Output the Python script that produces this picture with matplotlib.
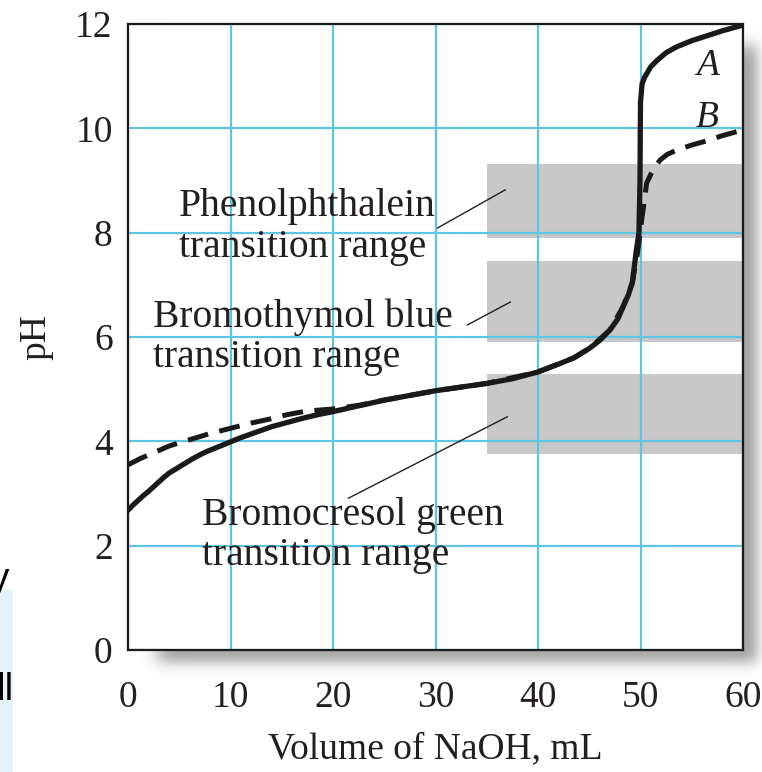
import numpy as np
import matplotlib
matplotlib.use('Agg')
import matplotlib.pyplot as plt
from matplotlib.patches import Rectangle

# titration curves: volume of NaOH (mL) vs pH
vol_a = [0, 0.5, 1, 1.5, 2, 2.5, 3, 3.5, 4, 4.75, 5.5, 6.25, 7, 7.75, 8.5, 9.25, 10, 11,
         12, 13, 14, 15.5, 17, 18.5, 20, 22.5, 25, 27.5, 30, 32.5, 35, 37.5, 40, 42,
         43.5, 45, 46, 47, 47.8, 48.3, 48.8, 49.2, 49.6, 49.85, 49.95, 49.98, 50.0,
         50.15, 50.4, 51.0, 51.6, 52.5, 53.5, 55, 56.1, 58, 60]
ph_a = [2.68, 2.78, 2.87, 2.96, 3.04, 3.13, 3.22, 3.31, 3.39, 3.48, 3.57, 3.66, 3.74,
        3.81, 3.87, 3.93, 3.99, 4.07, 4.14, 4.21, 4.28, 4.36, 4.44, 4.51, 4.57, 4.68,
        4.79, 4.88, 4.97, 5.04, 5.11, 5.2, 5.33, 5.48, 5.6, 5.78, 5.93, 6.13, 6.35,
        6.58, 6.8, 7.04, 7.67, 8.0, 9.0, 10.0, 10.5, 10.85, 10.98, 11.18, 11.3, 11.45,
        11.56, 11.68, 11.75, 11.87, 11.98]

vol_b = [0, 1.2, 2.5, 4, 6, 8, 10, 12, 13.9, 15.5, 17.4, 20, 22.5, 25, 30, 35, 40,
         43.5, 45, 47, 48.3, 49.2, 49.7, 50.0, 50.15, 50.3, 50.6, 51.2, 51.9, 52.6,
         53.5, 55, 56.1, 58, 60]
ph_b = [3.55, 3.67, 3.78, 3.91, 4.03, 4.15, 4.25, 4.35, 4.43, 4.51, 4.58, 4.62, 4.69,
        4.79, 4.97, 5.11, 5.33, 5.6, 5.78, 6.13, 6.58, 7.04, 7.6, 8.05, 8.3, 8.5, 8.95,
        9.2, 9.39, 9.5, 9.58, 9.68, 9.74, 9.86, 9.97]

# indicator transition ranges (pH low, pH high)
indicators = ['Phenolphthalein', 'Bromothymol blue', 'Bromocresol green']
range_low = [7.9, 5.9, 3.75]
range_high = [9.32, 7.45, 5.3]
range_start = 35

W, H = 762, 772
fig = plt.figure(figsize=(W / 100, H / 100), dpi=100)
serif = ['Liberation Serif', 'DejaVu Serif']
ink = '#231f20'
fs = 27

# drop shadow behind the plot frame, drawn in figure pixels
bg = fig.add_axes([0, 0, 1, 1], zorder=0)
xx, yy = np.meshgrid(np.arange(W) + 0.5, np.arange(H) + 0.5)
sig = lambda t, w: 1 / (1 + np.exp(-t / w))
alpha = sig(xx - 158, 5) * sig(757 - xx, 4) * sig(yy - 46, 5) * sig(662 - yy, 4) * 0.5
rgba = np.zeros((H, W, 4))
rgba[..., :3] = 0.25
rgba[..., 3] = alpha
bg.imshow(rgba, extent=(0, W, H, 0), interpolation='bilinear')
bg.add_patch(Rectangle((0, 590), 13, 182, color='#e4f3fb', lw=0))
bg.text(14, 700, 'll', fontsize=28, family=['Liberation Sans'], ha='right', va='baseline')
bg.text(9, 590, 'y', fontsize=28, family=['Liberation Sans'], ha='right', va='baseline')
bg.set_xlim(0, W)
bg.set_ylim(H, 0)
bg.axis('off')

ax = fig.add_axes([128 / W, 1 - 650 / H, 615 / W, 626 / H], zorder=1)
ax.set_facecolor('white')

for lo, hi in zip(range_low, range_high):
    ax.add_patch(Rectangle((range_start, lo), 60 - range_start, hi - lo,
                           color='#c8c8c9', lw=0, zorder=1))

ax.set_xticks(range(0, 61, 10))
ax.set_yticks(range(0, 13, 2))
ax.grid(True, color='#5ec4e4', lw=1.6)
for gl in ax.get_xgridlines() + ax.get_ygridlines():
    gl.set_zorder(2)

ax.plot(vol_b, ph_b, color='#1a1a1a', lw=3.6, dashes=(4.2, 2.3), zorder=3)
ax.plot(vol_a, ph_a, color='#1a1a1a', lw=3.8, zorder=4)

ax.set_xlim(0, 60)
ax.set_ylim(0, 12)
ax.tick_params(axis='y', length=0, labelsize=fs, colors=ink, pad=11)
ax.tick_params(axis='x', length=0, labelsize=fs, colors=ink, pad=22)
for lab in ax.get_xticklabels() + ax.get_yticklabels():
    lab.set_family(serif)
for s in ax.spines.values():
    s.set_linewidth(1.6)
    s.set_color('#1a1a1a')

ax.set_xlabel('Volume of NaOH, mL', fontsize=fs, family=serif, color=ink, labelpad=12)
ax.set_ylabel('pH', fontsize=fs, family=serif, color=ink, labelpad=16)

# indicator labels with leader lines
label_pos = [(5.0, 8.11), (2.4, 6.0), (7.2, 2.19)]
leaders = [((30.2, 8.09), (36.8, 8.82)), ((33.1, 6.23), (37.3, 6.67)),
           ((21.5, 2.91), (37.0, 4.47))]
for name, (tx, ty), (p0, p1) in zip(indicators, label_pos, leaders):
    ax.text(tx, ty, name + '\ntransition range', fontsize=28.5, family=serif, color=ink,
            ha='left', va='center', linespacing=1.12, zorder=5)
    ax.plot([p0[0], p1[0]], [p0[1], p1[1]], color=ink, lw=1.0, zorder=5)

ax.text(56.5, 11.2, 'A', fontsize=fs, family=serif, style='italic', color=ink,
        ha='center', va='center', zorder=5)
ax.text(56.5, 10.2, 'B', fontsize=fs, family=serif, style='italic', color=ink,
        ha='center', va='center', zorder=5)

fig.savefig('out.png', dpi=100)
